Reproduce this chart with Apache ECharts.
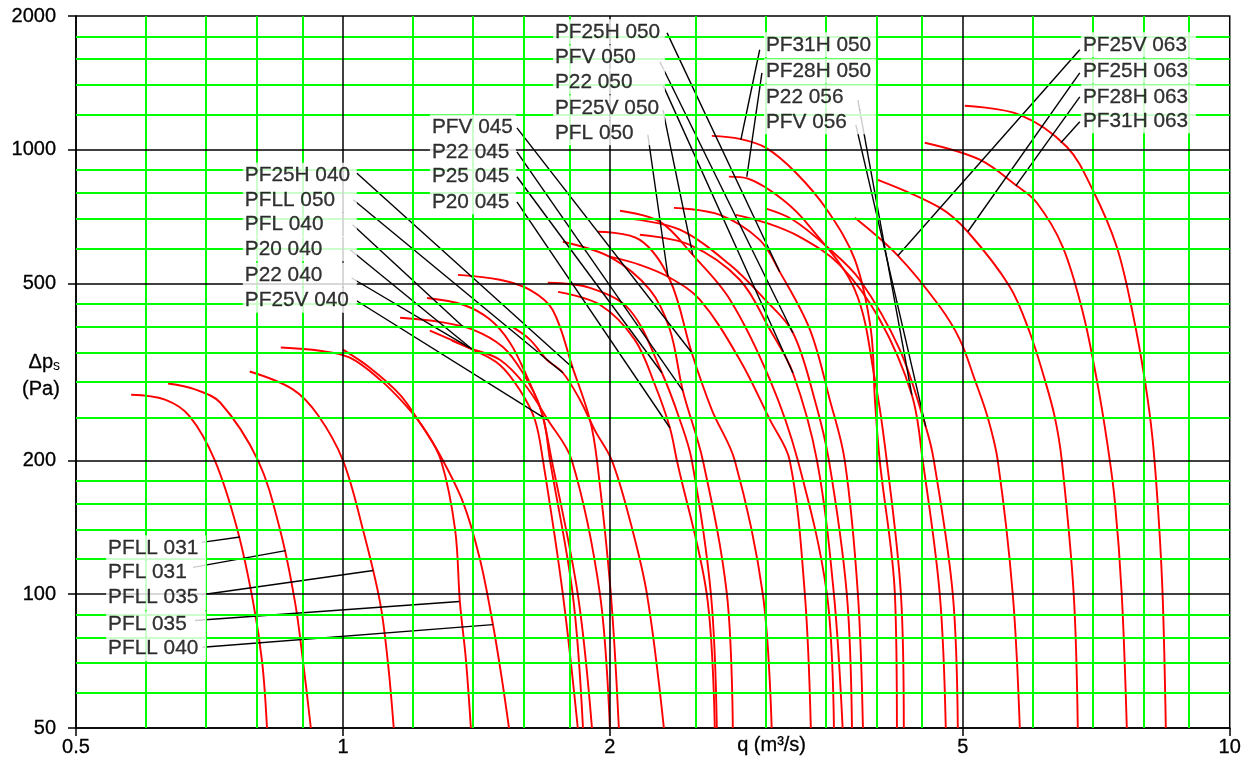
<!DOCTYPE html>
<html>
<head>
<meta charset="utf-8">
<script src="https://cdn.jsdelivr.net/npm/echarts@6/dist/echarts.min.js"></script>
<style>
  html, body { margin: 0; padding: 0; background: #fff; }
  #chart { width: 1244px; height: 764px; }
</style>
</head>
<body>
<div id="chart"></div>
<script>
// ---- axis ticks and grid values (q in m3/s, static pressure in Pa) ----
const xTicks = [0.5, 1, 2, 5, 10];
const yTicks = [50, 100, 200, 500, 1000, 2000];
const xMajor = [1, 2, 5];
const yMajor = [100, 200, 500, 1000];
const xMinor = [0.6, 0.7, 0.8, 0.9, 1.2, 1.4, 1.6, 1.8, 2.5, 3, 3.5, 4, 4.5, 6, 7, 8, 9];
const yMinor = [60, 70, 80, 90, 120, 140, 160, 180, 250, 300, 350, 400, 450, 600, 700, 800, 900, 1200, 1400, 1600, 1800];

// ---- fan curves: flow q (m3/s) and static pressure dp (Pa) ----
const qPFLL031 = [0.577, 0.630, 0.672, 0.717, 0.760, 0.792, 0.811, 0.821];
const pPFLL031 = [281, 274, 251, 200, 140, 96, 70, 50];
const qPFL031 = [0.635, 0.681, 0.727, 0.802, 0.849, 0.883, 0.902, 0.920];
const pPFL031 = [298, 289, 270, 200, 140, 96, 70, 50];
const qPFLL035 = [0.785, 0.878, 0.937, 1.0, 1.053, 1.101, 1.124, 1.141];
const pPFLL035 = [317, 289, 253, 200, 140, 96, 70, 50];
const qPFL035 = [0.851, 0.942, 1.018, 1.101, 1.175, 1.237, 1.290, 1.338, 1.355, 1.376, 1.394];
const pPFL035 = [359, 353, 340.5, 304, 267, 234.5, 200, 140, 95.7, 71.4, 50];
const qPFLL040 = [1.0, 1.073, 1.160, 1.221, 1.286, 1.366, 1.427, 1.476, 1.511, 1.539];
const pPFLL040 = [355, 323, 281, 243, 206, 161, 120, 85.6, 64.4, 50];
const qP20040 = [1.160, 1.286, 1.401, 1.515, 1.595, 1.668, 1.720, 1.840, 1.909];
const pP20040 = [419, 410, 394, 360, 315, 264, 200, 100, 50];
const qPF25V040 = [1.244, 1.366, 1.465, 1.543, 1.612, 1.681, 1.712, 1.816, 1.865];
const pPF25V040 = [464, 448, 415, 368, 309, 251, 200, 100, 50];
const qPFL040 = [1.253, 1.401, 1.503, 1.583, 1.646, 1.681, 1.770, 1.840];
const pPFL040 = [392, 355, 328, 288, 247, 200, 100, 50];
const qP22040 = [1.327, 1.390, 1.503, 1.604, 1.702, 1.812, 1.949, 2.0];
const pP22040 = [372, 358, 337, 296, 247, 200, 100, 50];
const qPF25H040 = [1.348, 1.503, 1.625, 1.724, 1.816, 1.899, 1.934, 2.005, 2.047];
const pPF25H040 = [523, 510, 484, 436, 323, 247, 200, 100, 50];
const qPFLL050 = [1.551, 1.625, 1.698, 1.770, 1.850, 1.923, 2.010, 2.106, 2.202, 2.301];
const pPFLL050 = [400, 374, 337, 315, 274, 234, 200, 147, 100, 50];
const qP25045 = [1.702, 1.899, 2.106, 2.289, 2.398, 2.474, 2.600, 2.640];
const pP25045 = [502, 489, 436, 315, 247, 200, 100, 50];
const qP20045 = [1.748, 1.949, 2.133, 2.248, 2.337, 2.380, 2.572, 2.626];
const pP20045 = [479, 448, 374, 296, 237, 200, 100, 50];
const qP22045 = [1.770, 2.0, 2.219, 2.337, 2.417, 2.546, 2.710, 2.752];
const pP22045 = [621, 574, 484, 394, 287, 200, 100, 50];
const qPFV045 = [1.939, 2.162, 2.337, 2.474, 2.606, 2.766, 2.975, 3.044];
const pPFV045 = [654, 627, 510, 349, 260, 200, 100, 50];
const qPFL050 = [2.005, 2.162, 2.326, 2.526, 2.802, 3.030, 3.190, 3.318, 3.370];
const pPFL050 = [574, 551, 518, 460, 337, 247, 200, 100, 50];
const qPF25V050 = [2.053, 2.277, 2.480, 2.732, 3.030, 3.258, 3.514, 3.578];
const pPF25V050 = [729, 689, 580, 460, 304, 200, 100, 50];
const qP22050 = [2.162, 2.462, 2.802, 3.030, 3.216, 3.424, 3.578, 3.660];
const pP22050 = [644, 611, 510, 394, 315, 200, 100, 50];
const qPFV050 = [2.111, 2.398, 2.732, 2.992, 3.216, 3.404, 3.532, 3.700, 3.750];
const pPFV050 = [699, 661, 551, 460, 388, 274, 200, 100, 50];
const qPF25H050 = [2.362, 2.661, 2.951, 3.108, 3.362, 3.540, 3.680, 3.808, 3.858];
const pPF25H050 = [740, 714, 627, 532, 394, 274, 200, 100, 50];
const qPF31H050 = [2.606, 2.802, 3.0, 3.242, 3.514, 3.778, 3.938, 3.980, 4.030, 4.192, 4.214];
const pPF31H050 = [1075, 1058, 1010, 888, 733, 566, 394, 274, 200, 100, 50];
const qPF28H050 = [2.724, 2.862, 3.134, 3.362, 3.778, 3.980, 4.104, 4.258, 4.290];
const pPF28H050 = [870, 861, 772, 671, 484, 304, 200, 100, 50];
const qP22056 = [2.774, 3.0, 3.274, 3.632, 4.030, 4.380, 4.506, 4.710, 4.784];
const pP22056 = [714, 685, 637, 551, 415, 281, 200, 100, 50];
const qPFV056 = [3.0, 3.216, 3.514, 3.826, 4.245, 4.542, 4.638, 4.872, 4.936];
const pPFV056 = [737, 696, 605, 510, 355, 238, 200, 100, 50];
const qPF25V063 = [3.778, 4.224, 4.710, 4.962, 5.158, 5.334, 5.475, 5.693, 5.798];
const pPF25V063 = [703, 578, 444, 374, 304, 250, 200, 100, 50];
const qPF25H063 = [4.010, 4.710, 5.065, 5.649, 5.950, 6.186, 6.350, 6.466, 6.669, 6.740];
const pPF25H063 = [856, 741, 654, 492, 388, 304, 250, 200, 100, 50];
const qPF28H063 = [4.530, 5.225, 5.750, 6.060, 6.481, 6.830, 7.080, 7.266, 7.418, 7.555, 7.655];
const pPF28H063 = [1037, 950, 830, 760, 605, 430, 304, 223, 163, 100, 50];
const qPF31H063 = [5.026, 5.798, 6.549, 7.005, 7.457, 7.771, 8.020, 8.185, 8.317, 8.405, 8.471];
const pPF31H063 = [1256, 1199, 1016, 813, 605, 430, 304, 223, 147, 97, 50];

const curves = [
  ['PFLL 031', qPFLL031, pPFLL031], ['PFL 031', qPFL031, pPFL031],
  ['PFLL 035', qPFLL035, pPFLL035], ['PFL 035', qPFL035, pPFL035],
  ['PFLL 040', qPFLL040, pPFLL040], ['P20 040', qP20040, pP20040],
  ['PF25V 040', qPF25V040, pPF25V040], ['PFL 040', qPFL040, pPFL040],
  ['P22 040', qP22040, pP22040], ['PF25H 040', qPF25H040, pPF25H040],
  ['PFLL 050', qPFLL050, pPFLL050], ['P25 045', qP25045, pP25045],
  ['P20 045', qP20045, pP20045], ['P22 045', qP22045, pP22045],
  ['PFV 045', qPFV045, pPFV045], ['PFL 050', qPFL050, pPFL050],
  ['PF25V 050', qPF25V050, pPF25V050], ['P22 050', qP22050, pP22050],
  ['PFV 050', qPFV050, pPFV050], ['PF25H 050', qPF25H050, pPF25H050],
  ['PF31H 050', qPF31H050, pPF31H050], ['PF28H 050', qPF28H050, pPF28H050],
  ['P22 056', qP22056, pP22056], ['PFV 056', qPFV056, pPFV056],
  ['PF25V 063', qPF25V063, pPF25V063], ['PF25H 063', qPF25H063, pPF25H063],
  ['PF28H 063', qPF28H063, pPF28H063], ['PF31H 063', qPF31H063, pPF31H063]
];

// ---- curve labels: text anchor (left edge), leader start and leader end, in [q, dp] ----
const labelText = [
  'PFLL 031', 'PFL 031', 'PFLL 035', 'PFL 035', 'PFLL 040',
  'PF25H 040', 'PFLL 050', 'PFL 040', 'P20 040', 'P22 040', 'PF25V 040',
  'PFV 045', 'P22 045', 'P25 045', 'P20 045',
  'PF25H 050', 'PFV 050', 'P22 050', 'PF25V 050', 'PFL 050',
  'PF31H 050', 'PF28H 050', 'P22 056', 'PFV 056',
  'PF25V 063', 'PF25H 063', 'PF28H 063', 'PF31H 063'
];
const labelGroup = [0,0,0,0,0, 1,1,1,1,1,1, 2,2,2,2, 3,3,3,3,3, 4,4,4,4, 5,5,5,5];
const labelAt = [
  [0.5434, 127.2], [0.5434, 111.8], [0.5434, 98.2], [0.5434, 85.8], [0.5434, 75.4],
  [0.775, 876.4], [0.775, 771.7], [0.775, 678.3], [0.775, 598.8], [0.775, 522.1], [0.775, 458.6],
  [1.2597, 1126], [1.2597, 989.7], [1.2597, 869.7], [1.2597, 763.8],
  [1.734, 1843], [1.734, 1611], [1.734, 1422], [1.734, 1243], [1.734, 1092],
  [2.999, 1723], [2.999, 1505], [2.999, 1316], [2.999, 1156],
  [6.830, 1723], [6.830, 1505], [6.830, 1316], [6.830, 1162]
];
const leaderFrom = [
  [0.693, 130.8], [0.6775, 114.9], [0.693, 99.7], [0.681, 87.3], [0.6947, 76.0],
  [1.0362, 886.5], [1.0271, 771.7], [1.0255, 678.3], [1.0165, 597.9], [1.0228, 514.6], [1.0362, 457.4],
  [1.571, 1120], [1.571, 989.7], [1.571, 869.7], [1.571, 763.8],
  [2.320, 1833], [2.277, 1578], [2.295, 1400], [2.295, 1230], [2.207, 1081],
  [2.951, 1679], [2.968, 1490], [3.808, 1294], [3.788, 1138],
  [6.775, 1679], [6.775, 1490], [6.775, 1316], [6.775, 1156]
];
const leaderTo = [
  [0.7655, 134.5], [0.862, 125.3], [1.082, 113.1], [1.353, 96.3], [1.476, 85.4],
  [1.816, 323.2], [1.770, 315], [1.366, 399.6], [1.401, 354.9], [1.390, 358.5], [1.698, 247],
  [2.474, 349.4], [2.417, 287], [2.289, 315], [2.337, 236.9],
  [3.108, 531.6], [3.216, 387.6], [3.216, 315], [2.480, 580.5], [2.326, 518],
  [2.810, 1053], [2.854, 869.7], [4.380, 281.1], [4.542, 238.2],
  [4.224, 577.5], [5.065, 654], [5.738, 829.8], [6.451, 1037]
];

// white label box width for each label group (px)
const groupBoxWidth = [98, 112, 84, 110, 110, 113];

const FONT = '"Liberation Sans", Arial, Helvetica, sans-serif';
const chart = echarts.init(document.getElementById('chart'), null, { renderer: 'canvas' });

const fmt = v => String(+(+v).toPrecision(4));

const gridSeries = (xs, ys, color, width, z) => ({
  type: 'line',
  data: [],
  silent: true,
  z: z,
  markLine: {
    silent: true,
    animation: false,
    symbol: ['none', 'none'],
    label: { show: false },
    lineStyle: { color: color, width: width, type: 'solid' },
    emphasis: { disabled: true },
    data: xs.map(v => ({ xAxis: v })).concat(ys.map(v => ({ yAxis: v })))
  }
});

const curveSeries = curves.map(([name, q, p]) => ({
  type: 'line',
  name: name,
  data: q.map((v, i) => [v, p[i]]),
  smooth: 0.35,
  showSymbol: false,
  symbol: 'none',
  silent: true,
  z: 3,
  lineStyle: { color: '#ff0000', width: 1.9 }
}));

const leaderSeries = {
  type: 'lines',
  coordinateSystem: 'cartesian2d',
  silent: true,
  z: 4,
  symbol: ['none', 'none'],
  lineStyle: { color: '#000', width: 1.4, opacity: 1 },
  data: leaderFrom.map((f, i) => ({ coords: [f, leaderTo[i]] }))
};

const labelSeries = {
  type: 'scatter',
  silent: true,
  z: 5,
  symbol: 'circle',
  symbolSize: 0.1,
  itemStyle: { color: 'rgba(0,0,0,0)' },
  data: labelAt.map((pt, i) => ({
    value: pt,
    name: labelText[i],
    label: { width: groupBoxWidth[labelGroup[i]] }
  })),
  label: {
    show: true,
    position: 'right',
    distance: 0,
    offset: [-2, 0],
    formatter: '{b}',
    color: '#000',
    fontSize: 20.8,
    fontFamily: FONT,
    lineHeight: 23,
    textBorderColor: '#000',
    textBorderWidth: 0.3,
    backgroundColor: '#fff',
    padding: [1, 0, 1, 2]
  }
};

const textStyle = { fontSize: 20, fontFamily: FONT, fill: '#000', stroke: '#000', lineWidth: 0.3 };

chart.setOption({
  animation: false,
  backgroundColor: '#fff',
  grid: { left: 76, top: 16, right: 14, bottom: 36, show: true, borderColor: '#000', borderWidth: 1.5, backgroundColor: '#fff' },
  xAxis: {
    type: 'log', logBase: 10, min: 0.5, max: 10,
    axisLine: { show: true, onZero: false, lineStyle: { color: '#000', width: 1.5 } },
    axisTick: { show: true, length: 8, inside: false, customValues: xTicks, lineStyle: { color: '#000', width: 1.5 } },
    axisLabel: { customValues: xTicks, color: '#000', fontSize: 20, fontFamily: FONT, margin: 9, formatter: fmt,
      textBorderColor: '#000', textBorderWidth: 0.3 },
    splitLine: { show: false }, minorTick: { show: false }, minorSplitLine: { show: false }
  },
  yAxis: {
    type: 'log', logBase: 10, min: 50, max: 2000,
    axisLine: { show: true, onZero: false, lineStyle: { color: '#000', width: 1.5 } },
    axisTick: { show: true, length: 8, inside: false, customValues: yTicks, lineStyle: { color: '#000', width: 1.5 } },
    axisLabel: { customValues: yTicks, color: '#000', fontSize: 20, fontFamily: FONT, margin: 20, formatter: fmt,
      textBorderColor: '#000', textBorderWidth: 0.3 },
    splitLine: { show: false }, minorTick: { show: false }, minorSplitLine: { show: false }
  },
  graphic: [
    { type: 'text', left: 737, top: 735, z: 10, style: Object.assign({ text: 'q (m³/s)' }, textStyle) },
    { type: 'text', right: 1184, top: 352, z: 10, style: {
        text: '{a|Δp}{s|s}', rich: {
          a: { fontSize: 20, fontFamily: FONT, fill: '#000', stroke: '#000', lineWidth: 0.3 },
          s: { fontSize: 14, fontFamily: FONT, fill: '#000', padding: [8, 0, 0, 0] } } } },
    { type: 'text', right: 1184, top: 379, z: 10, style: Object.assign({ text: '(Pa)' }, textStyle) }
  ],
  series: [
    gridSeries(xMinor, yMinor, '#00ff00', 2, 1),
    gridSeries(xMajor, yMajor, '#000000', 1.5, 2)
  ].concat(curveSeries, [leaderSeries, labelSeries])
});
</script>
</body>
</html>
